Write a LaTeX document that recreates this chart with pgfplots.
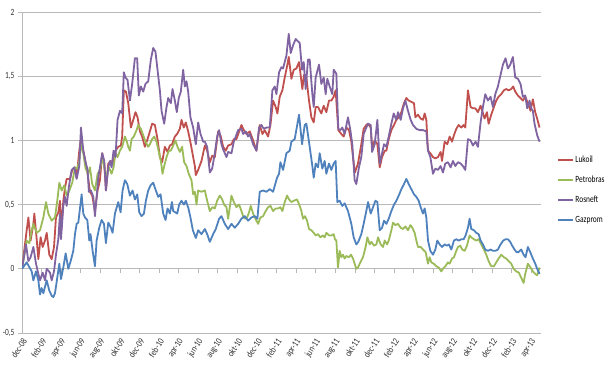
\documentclass[border=0pt]{standalone}
\usepackage{fontspec}
\setmainfont{Carlito}[FakeStretch=0.78]
\newfontfamily\xlabfont{Carlito}[FakeStretch=0.8]
\usepackage{pgfplots}
\pgfplotsset{compat=1.18}
\definecolor{cLuk}{RGB}{192,80,77}
\definecolor{cPet}{RGB}{155,187,89}
\definecolor{cRos}{RGB}{128,100,162}
\definecolor{cGaz}{RGB}{79,129,189}
\definecolor{gridgray}{RGB}{185,185,185}
\begin{document}
\begin{tikzpicture}
\path[use as bounding box] (0,0) rectangle (608bp,378bp);
\begin{axis}[
  at={(22bp,45bp)}, anchor=south west,
  scale only axis, width=519bp, height=321bp,
  xmin=0, xmax=53, ymin=-0.5, ymax=2,
  axis x line*=bottom, axis y line*=left,
  x axis line style={draw=none},
  y axis line style={draw=gridgray, line width=0.8bp},
  ymajorgrids, grid style={draw=gridgray, line width=0.8bp},
  ytick={-0.5,0,0.5,1,1.5,2},
  yticklabels={{-0,5},0,{0,5},1,{1,5},2},
  xtick={0,2,...,52},
  xticklabels={dec-08,feb-09,apr-09,jun-09,aug-09,okt-09,dec-09,feb-10,apr-10,jun-10,aug-10,okt-10,dec-10,feb-11,apr-11,jun-11,aug-11,okt-11,dec-11,feb-12,apr-12,jun-12,aug-12,okt-12,dec-12,feb-13,apr-13},
  tick align=outside, major tick length=4bp,
  xtick style={draw=none}, ytick style={draw=gridgray, line width=0.8bp},
  yticklabel style={font=\fontsize{9.5bp}{11bp}\selectfont, text=black!80},
  xticklabel style={font=\xlabfont\fontsize{9.5bp}{10bp}\selectfont, text=black!80, anchor=east, inner sep=0.5bp, xshift=3bp, yshift=-2bp, rotate=57},
  every axis plot/.append style={line width=1.8bp, line join=round, mark=none},
  legend cell align=left,
  legend style={draw=none, fill=none, at={(1.0308,0.446)}, anchor=west,
    font=\fontsize{9.5bp}{10bp}\selectfont, row sep=10.5bp, column sep=1bp,
    inner sep=0pt, nodes={text height=6.5bp, text depth=2bp, inner sep=0.5bp}},
  legend image code/.code={\draw[#1] (0bp,0bp) -- (15bp,0bp);},
]
\pgfplotsinvokeforeach{0,2,...,52}{\draw[gridgray, line width=0.8bp] (axis cs:#1,0) -- ([yshift=-4bp]axis cs:#1,0);}

\addplot[cLuk] coordinates {
(0,0) (0.48,0.30) (0.65,0.40) (0.88,0.22) (1.16,0.35) (1.26,0.43) (1.5,0.23) (1.67,0.075) (1.9,0.245) (2.11,0.17) (2.35,0.22) (2.52,0.28) (2.79,0.11) (3.03,0.075) (3.27,0.17) (3.47,0.40) (3.71,0.44) (3.88,0.53) (4.01,0.30) (4.22,0.53) (4.39,0.63) (4.56,0.70) (4.9,0.70) (5.13,0.77) (5.41,0.79) (5.58,0.71) (5.85,0.92) (6.02,1.01) (6.26,0.92) (6.49,0.83) (6.7,0.74) (6.94,0.60) (7.17,0.57) (7.45,0.45) (7.72,0.61) (7.96,0.69) (8.19,0.90) (8.4,0.82) (8.57,0.61) (8.81,0.82) (9.08,0.84) (9.32,0.82) (9.55,0.92) (9.83,0.95) (10.1,0.96) (10.23,1.03) (10.4,1.39) (10.61,1.38) (10.85,1.29) (11.12,1.10) (11.36,1.16) (11.59,1.22) (11.8,1.18) (12.04,1.07) (12.27,1.03) (12.55,0.95) (12.82,1.01) (13.06,1.07) (13.29,1.13) (13.57,1.12) (13.84,1.01) (14.08,0.87) (14.31,0.83) (14.59,0.95) (14.86,0.91) (15.1,0.96) (15.33,0.97) (15.61,1.03) (15.84,1.05) (16.12,1.09) (16.29,1.16) (16.52,1.10) (16.73,1.14) (16.97,1.07) (17.24,0.97) (17.48,0.87) (17.65,0.80) (17.75,0.73) (17.99,0.77) (18.33,0.84) (18.67,0.96) (18.91,0.92) (19.18,0.83) (19.42,0.88) (19.69,0.87) (20.03,1.07) (20.27,1.04) (20.54,0.95) (20.81,0.92) (21.05,0.96) (21.39,0.97) (21.63,1.01) (21.9,1.01) (22.41,1.12) (22.65,1.08) (22.92,1.05) (23.26,1.07) (23.6,1.0) (23.94,0.92) (24.28,1.12) (24.55,1.05) (24.79,1.08) (25.13,1.03) (25.37,1.12) (25.64,1.31) (25.91,1.26) (26.08,1.21) (26.32,1.34) (26.59,1.39) (26.83,1.49) (27.1,1.59) (27.24,1.65) (27.51,1.48) (27.75,1.55) (28.02,1.56) (28.29,1.61) (28.63,1.40) (28.8,1.51) (29.04,1.49) (29.31,1.31) (29.55,1.18) (29.79,1.14) (29.99,1.26) (30.23,1.26) (30.57,1.21) (30.81,1.27) (31.08,1.22) (31.35,1.31) (31.59,1.31) (31.83,1.34) (32.03,1.39) (32.3,1.08) (32.61,1.05) (32.85,1.03) (33.12,1.10) (33.39,1.08) (33.63,0.99) (33.8,0.87) (34.0,0.75) (34.31,0.82) (34.65,0.97) (34.89,1.09) (35.16,1.12) (35.34,1.13) (35.61,1.10) (35.75,0.95) (36.02,1.0) (36.29,0.97) (36.53,0.79) (36.77,0.87) (37.04,0.92) (37.21,0.92) (37.45,1.01) (37.72,1.08) (37.99,1.12) (38.23,1.16) (38.47,1.18) (38.74,1.22) (39.01,1.29) (39.25,1.33) (39.49,1.31) (39.76,1.30) (40.03,1.29) (40.17,1.18) (40.44,1.20) (40.71,1.17) (40.95,1.16) (41.12,1.21) (41.29,1.16) (41.46,0.92) (41.7,0.90) (41.97,0.87) (42.21,0.86) (42.48,0.87) (42.75,0.91) (42.89,0.84) (43.16,0.99) (43.43,0.97) (43.67,1.03) (43.91,0.99) (44.11,1.04) (44.35,1.09) (44.59,1.12) (44.86,1.10) (45.1,1.12) (45.27,1.10) (45.54,1.39) (45.81,1.26) (46.05,1.25) (46.29,1.25) (46.56,1.22) (46.83,1.27) (47.0,1.23) (47.24,1.17) (47.48,1.22) (47.65,1.13) (47.92,1.20) (48.19,1.26) (48.43,1.31) (48.67,1.34) (48.94,1.36) (49.21,1.39) (49.45,1.40) (49.69,1.39) (49.96,1.40) (50.16,1.42) (50.37,1.38) (50.64,1.35) (50.91,1.33) (51.15,1.31) (51.39,1.34) (51.66,1.29) (51.93,1.23) (52.17,1.32) (52.41,1.22) (52.61,1.17) (52.85,1.10)
};
\addlegendentry{Lukoil}

\addplot[cPet] coordinates {
(0,0) (0.31,0.14) (0.48,0.22) (0.75,0.20) (0.99,0.30) (1.16,0.35) (1.5,0.28) (1.84,0.30) (2.18,0.40) (2.45,0.52) (2.69,0.43) (3.03,0.375) (3.37,0.40) (3.6,0.53) (3.81,0.67) (4.05,0.61) (4.32,0.65) (4.56,0.57) (4.79,0.60) (5.13,0.67) (5.41,0.79) (5.64,0.78) (5.85,0.84) (6.02,0.97) (6.26,0.90) (6.49,0.78) (6.77,0.74) (6.94,0.79) (7.17,0.66) (7.45,0.61) (7.72,0.74) (7.96,0.77) (8.19,0.87) (8.4,0.79) (8.64,0.71) (8.87,0.79) (9.15,0.74) (9.35,0.79) (9.55,0.90) (9.76,0.87) (10.0,0.92) (10.23,0.95) (10.51,1.03) (10.71,0.99) (10.85,0.95) (11.02,0.92) (11.19,1.01) (11.42,1.03) (11.7,1.08) (11.87,1.12) (12.14,1.09) (12.38,1.04) (12.61,0.99) (12.89,0.95) (13.06,0.97) (13.29,1.01) (13.5,1.03) (13.74,0.99) (13.97,0.91) (14.18,0.84) (14.35,0.74) (14.52,0.80) (14.76,0.87) (14.99,0.92) (15.2,0.92) (15.44,0.96) (15.67,1.0) (15.88,0.95) (16.12,0.91) (16.35,0.95) (16.56,0.83) (16.8,0.80) (17.03,0.74) (17.31,0.69) (17.48,0.58) (17.65,0.60) (17.82,0.50) (17.99,0.61) (18.33,0.60) (18.67,0.61) (18.91,0.53) (19.18,0.45) (19.45,0.48) (19.69,0.47) (19.93,0.53) (20.2,0.57) (20.44,0.54) (20.64,0.50) (20.88,0.48) (21.05,0.39) (21.22,0.48) (21.39,0.57) (21.63,0.52) (21.9,0.48) (22.17,0.50) (22.41,0.45) (22.58,0.41) (22.75,0.39) (22.99,0.40) (23.19,0.44) (23.36,0.49) (23.6,0.43) (23.84,0.39) (24.11,0.35) (24.35,0.40) (24.62,0.41) (24.89,0.45) (25.13,0.48) (25.37,0.49) (25.64,0.45) (25.91,0.47) (26.15,0.47) (26.39,0.48) (26.59,0.45) (26.83,0.52) (27.07,0.57) (27.27,0.54) (27.51,0.52) (27.75,0.53) (28.09,0.54) (28.36,0.49) (28.53,0.45) (28.7,0.39) (28.9,0.41) (29.11,0.375) (29.31,0.31) (29.55,0.30) (29.79,0.28) (29.99,0.26) (30.23,0.27) (30.47,0.245) (30.74,0.26) (30.91,0.245) (31.08,0.28) (31.35,0.26) (31.59,0.26) (31.83,0.27) (31.96,0.23) (32.1,0.22) (32.27,0.01) (32.44,0.14) (32.61,0.09) (32.78,0.11) (32.95,0.08) (33.12,0.10) (33.39,0.09) (33.6,0.11) (33.8,0.08) (33.97,0.04) (34.14,0.0) (34.31,0.01) (34.55,0.05) (34.82,0.09) (35.09,0.17) (35.27,0.245) (35.51,0.19) (35.68,0.21) (35.95,0.18) (36.19,0.19) (36.36,0.245) (36.63,0.19) (36.87,0.17) (37.04,0.22) (37.28,0.19) (37.45,0.22) (37.72,0.30) (37.89,0.36) (38.13,0.34) (38.4,0.35) (38.67,0.32) (38.91,0.31) (39.15,0.33) (39.42,0.30) (39.66,0.34) (39.86,0.32) (40.1,0.28) (40.27,0.22) (40.44,0.17) (40.71,0.17) (40.95,0.15) (41.22,0.13) (41.46,0.04) (41.63,0.09) (41.8,0.05) (42.04,0.04) (42.31,0.02) (42.55,0.01) (42.82,-0.02) (42.99,0.0) (43.23,0.02) (43.5,0.05) (43.67,0.04) (43.91,0.08) (44.11,0.09) (44.35,0.14) (44.52,0.17) (44.76,0.18) (44.96,0.15) (45.2,0.14) (45.44,0.18) (45.71,0.26) (45.88,0.245) (46.15,0.23) (46.39,0.22) (46.63,0.23) (46.9,0.19) (47.17,0.15) (47.41,0.11) (47.65,0.06) (47.92,0.02) (48.19,0.02) (48.43,0.05) (48.67,0.08) (48.94,0.11) (49.21,0.09) (49.45,0.08) (49.69,0.06) (49.96,0.04) (50.2,0.0) (50.47,-0.02) (50.74,-0.03) (50.98,-0.07) (51.22,-0.11) (51.39,-0.04) (51.66,0.04) (51.93,0.01) (52.17,-0.02) (52.41,-0.04) (52.61,-0.05) (52.85,0.01)
};
\addlegendentry{Petrobras}

\addplot[cRos] coordinates {
(0,0) (0.41,0.19) (0.65,0.06) (0.88,0.09) (1.16,0.17) (1.43,0.04) (1.67,-0.04) (1.84,-0.09) (2.11,-0.03) (2.35,-0.09) (2.52,0.0) (2.86,-0.03) (3.03,-0.09) (3.27,-0.02) (3.47,0.11) (3.71,0.23) (3.88,0.43) (3.98,0.23) (4.22,0.49) (4.39,0.56) (4.56,0.49) (4.79,0.64) (5.07,0.77) (5.34,0.79) (5.58,0.70) (5.85,0.80) (6.02,1.10) (6.26,0.92) (6.49,0.83) (6.7,0.77) (6.83,0.60) (7.04,0.61) (7.28,0.56) (7.45,0.41) (7.62,0.56) (7.79,0.71) (8.19,0.90) (8.4,0.84) (8.57,0.61) (8.81,0.79) (8.98,0.84) (9.15,0.79) (9.35,0.92) (9.55,0.87) (9.76,1.16) (10.0,1.23) (10.23,1.21) (10.4,1.53) (10.57,1.49) (10.78,1.47) (11.02,1.31) (11.25,1.44) (11.53,1.64) (11.76,1.64) (11.93,1.35) (12.14,1.42) (12.38,1.38) (12.61,1.44) (12.89,1.46) (13.16,1.63) (13.4,1.72) (13.63,1.69) (13.84,1.55) (14.08,1.39) (14.25,1.23) (14.52,1.13) (14.76,1.26) (14.93,1.33) (15.2,1.29) (15.37,1.40) (15.61,1.31) (15.81,1.22) (16.01,1.33) (16.22,1.38) (16.46,1.55) (16.63,1.42) (16.8,1.46) (16.97,1.38) (17.2,1.18) (17.48,1.10) (17.75,0.97) (17.99,1.14) (18.23,1.05) (18.5,0.99) (18.67,0.99) (18.91,0.95) (19.18,0.75) (19.42,0.78) (19.69,0.90) (19.93,1.03) (20.13,1.08) (20.37,0.97) (20.54,0.93) (20.88,0.87) (21.05,0.91) (21.39,0.90) (21.63,0.99) (22.07,1.08) (22.41,1.09) (22.58,1.05) (22.85,1.07) (23.09,1.03) (23.26,1.05) (23.6,0.97) (23.94,0.92) (24.21,1.10) (24.45,1.12) (24.69,1.09) (24.96,1.10) (25.3,1.10) (25.57,1.39) (25.81,1.42) (25.98,1.36) (26.25,1.53) (26.49,1.57) (26.66,1.56) (27.0,1.66) (27.24,1.83) (27.44,1.68) (27.68,1.74) (27.95,1.79) (28.19,1.77) (28.36,1.76) (28.6,1.55) (28.77,1.61) (28.97,1.40) (29.21,1.63) (29.38,1.63) (29.65,1.36) (29.79,1.26) (29.99,1.49) (30.33,1.59) (30.57,1.44) (30.81,1.49) (31.01,1.36) (31.18,1.48) (31.42,1.42) (31.69,1.36) (31.83,1.55) (32.1,1.52) (32.3,1.09) (32.51,1.08) (32.71,1.10) (32.95,1.05) (33.29,1.18) (33.53,1.08) (33.73,0.97) (33.97,0.69) (34.14,0.66) (34.41,0.79) (34.65,0.87) (34.89,1.05) (35.16,1.10) (35.34,1.13) (35.61,1.12) (35.75,0.91) (36.02,0.97) (36.29,1.16) (36.53,0.82) (36.77,0.90) (36.97,0.97) (37.21,0.95) (37.45,1.03) (37.72,1.13) (37.96,1.21) (38.23,1.16) (38.4,1.22) (38.67,1.16) (38.91,1.25) (39.15,1.31) (39.42,1.23) (39.69,1.16) (39.93,1.12) (40.27,1.09) (40.61,1.08) (40.95,1.08) (41.29,1.07) (41.46,0.92) (41.7,0.87) (41.97,0.74) (42.21,0.78) (42.48,0.77) (42.75,0.80) (42.99,0.75) (43.23,0.82) (43.5,0.83) (43.77,0.79) (44.01,0.84) (44.25,0.80) (44.52,0.83) (44.79,0.82) (45.03,0.80) (45.27,0.77) (45.54,1.01) (45.81,1.0) (46.05,0.96) (46.32,0.99) (46.56,0.95) (46.83,1.14) (47.07,1.26) (47.31,1.36) (47.58,1.31) (47.85,1.34) (48.09,1.26) (48.33,1.36) (48.6,1.42) (48.87,1.51) (49.11,1.59) (49.38,1.64) (49.62,1.56) (49.86,1.59) (50.13,1.65) (50.37,1.49) (50.64,1.48) (50.91,1.44) (51.15,1.34) (51.39,1.35) (51.59,1.25) (51.83,1.31) (52.0,1.25) (52.17,1.23) (52.34,1.13) (52.61,1.04) (52.85,0.99)
};
\addlegendentry{Rosneft}

\addplot[cGaz] coordinates {
(0,0) (0.48,0.05) (0.99,-0.02) (1.16,-0.09) (1.43,-0.02) (1.67,-0.09) (1.84,-0.2) (2.0,-0.15) (2.18,-0.19) (2.52,-0.09) (2.79,-0.17) (3.03,-0.21) (3.2,-0.22) (3.37,-0.19) (3.6,-0.07) (3.81,0.04) (3.98,-0.08) (4.22,0.01) (4.46,0.12) (4.73,0) (4.97,0.06) (5.24,0.14) (5.41,0.27) (5.58,0.35) (5.75,0.36) (5.92,0.47) (6.09,0.58) (6.26,0.43) (6.43,0.40) (6.67,0.38) (6.87,0.22) (7.0,0.27) (7.21,0.14) (7.45,0.02) (7.62,0.22) (7.89,0.32) (8.13,0.38) (8.37,0.35) (8.57,0.2) (8.81,0.36) (9.08,0.32) (9.25,0.28) (9.49,0.43) (9.83,0.52) (10.07,0.44) (10.27,0.61) (10.51,0.69) (10.75,0.66) (11.02,0.57) (11.29,0.61) (11.53,0.54) (11.77,0.58) (11.97,0.44) (12.21,0.41) (12.45,0.43) (12.65,0.53) (12.89,0.61) (13.13,0.65) (13.4,0.67) (13.67,0.61) (13.91,0.56) (14.15,0.58) (14.42,0.43) (14.66,0.38) (14.86,0.47) (15.1,0.43) (15.31,0.52) (15.44,0.45) (15.65,0.44) (15.85,0.43) (16.05,0.5) (16.29,0.53) (16.53,0.5) (16.73,0.53) (17.0,0.47) (17.2,0.40) (17.45,0.30) (17.75,0.24) (17.99,0.30) (18.33,0.27) (18.67,0.31) (18.91,0.27) (19.18,0.21) (19.52,0.27) (19.79,0.31) (20.13,0.39) (20.37,0.41) (20.71,0.35) (21.05,0.31) (21.39,0.35) (21.73,0.32) (22.07,0.35) (22.41,0.39) (22.75,0.41) (23.09,0.375) (23.43,0.40) (23.77,0.41) (24.04,0.39) (24.28,0.60) (24.62,0.61) (24.96,0.60) (25.30,0.62) (25.64,0.60) (26.05,0.71) (26.25,0.74) (26.39,0.83) (26.66,0.77) (27.0,0.90) (27.34,0.92) (27.51,0.99) (27.85,1.01) (28.29,1.20) (28.6,0.97) (28.87,1.12) (29.04,1.13) (29.38,0.95) (29.65,0.80) (29.79,0.71) (29.99,0.82) (30.23,0.79) (30.4,0.90) (30.67,0.78) (30.91,0.84) (31.08,0.74) (31.35,0.82) (31.59,0.77) (31.83,0.82) (32.03,0.84) (32.2,0.52) (32.44,0.53) (32.71,0.49) (32.95,0.51) (33.29,0.45) (33.63,0.35) (33.87,0.245) (34.14,0.19) (34.34,0.21) (34.65,0.27) (34.89,0.35) (35.16,0.45) (35.34,0.52) (35.61,0.43) (35.85,0.48) (36.09,0.53) (36.29,0.52) (36.53,0.30) (36.77,0.32) (36.97,0.375) (37.21,0.35) (37.45,0.39) (37.72,0.45) (37.99,0.50) (38.23,0.53) (38.47,0.57) (38.74,0.62) (39.01,0.66) (39.25,0.70) (39.49,0.66) (39.76,0.62) (40.03,0.58) (40.27,0.56) (40.51,0.53) (40.71,0.48) (40.95,0.43) (41.12,0.47) (41.29,0.40) (41.46,0.22) (41.7,0.14) (41.97,0.11) (42.21,0.15) (42.41,0.22) (42.65,0.19) (42.89,0.17) (43.16,0.19) (43.4,0.18) (43.6,0.19) (43.84,0.15) (44.11,0.22) (44.35,0.23) (44.59,0.22) (44.86,0.23) (45.1,0.23) (45.3,0.26) (45.54,0.32) (45.71,0.39) (45.88,0.31) (46.15,0.30) (46.39,0.28) (46.63,0.27) (46.83,0.22) (47.07,0.19) (47.31,0.15) (47.58,0.14) (47.85,0.15) (48.09,0.14) (48.36,0.14) (48.6,0.15) (48.87,0.19) (49.14,0.22) (49.38,0.23) (49.62,0.23) (49.86,0.21) (50.06,0.18) (50.3,0.15) (50.5,0.13) (50.71,0.13) (50.98,0.15) (51.22,0.11) (51.42,0.09) (51.66,0.17) (51.9,0.13) (52.17,0.08) (52.41,0.04) (52.61,0.0) (52.85,-0.04)
};
\addlegendentry{Gazprom}
\end{axis}
\end{tikzpicture}
\end{document}
